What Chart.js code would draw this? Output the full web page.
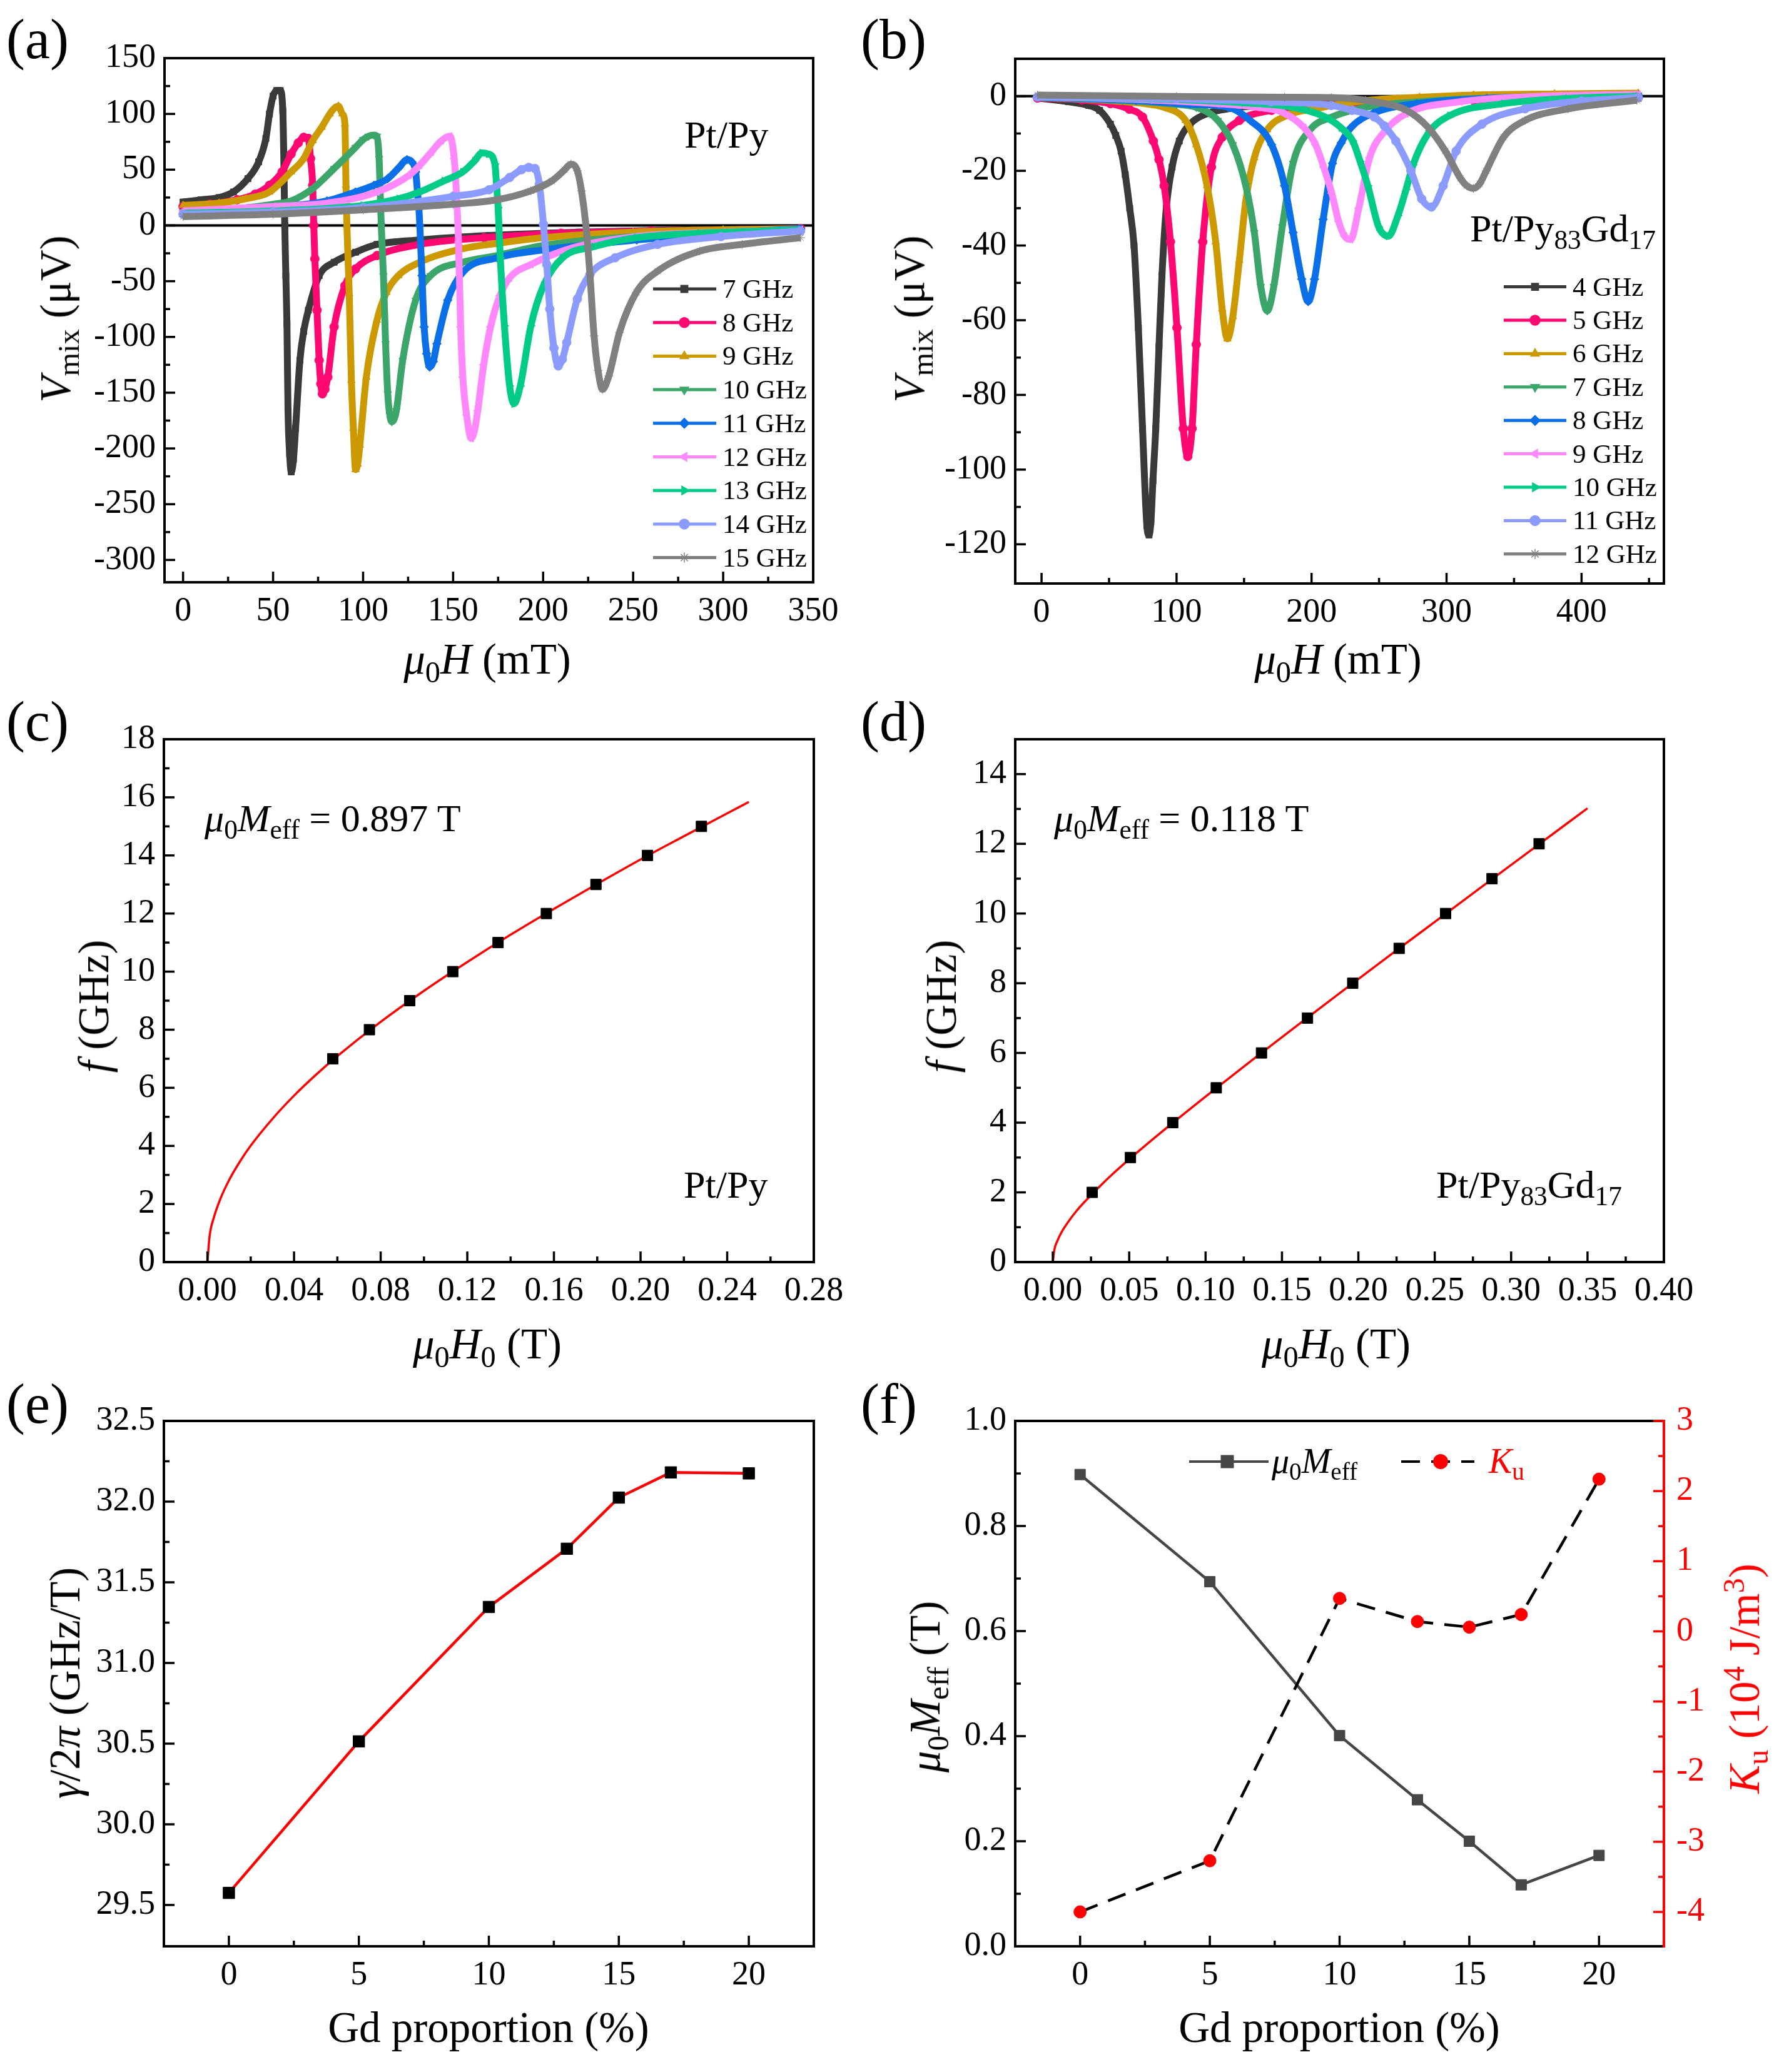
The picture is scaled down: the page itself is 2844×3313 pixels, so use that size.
<!DOCTYPE html>
<html><head><meta charset="utf-8">
<script src="https://cdn.jsdelivr.net/npm/chart.js@4.4.1/dist/chart.umd.min.js"></script>
<style>
html,body{margin:0;padding:0;background:#fff;}
#page{position:relative;width:2844px;height:3313px;overflow:hidden;background:#fff;font-family:'Liberation Serif','Times New Roman',serif;color:#000;}
canvas.p{position:absolute;}
.t{position:absolute;white-space:nowrap;line-height:1.1;}
.i{font-style:italic;}
.sb{font-size:0.7em;vertical-align:-0.28em;line-height:0;}
.sp{font-size:0.7em;vertical-align:0.5em;line-height:0;}
</style></head><body><div id="page"></div>
<script>
// ---------- Panel (a): Pt/Py, field (mT) and V_mix (uV) ----------
const freqLabelsA = ['7 GHz','8 GHz','9 GHz','10 GHz','11 GHz','12 GHz','13 GHz','14 GHz','15 GHz'];
const a7H = [0,10,20,28,36,42,46,48,50,52,54,55.4,55.9,56.5,57.1,57.7,58.3,59.2,60.1,61.3,62.5,64.9,67,69.6,75.6,83.9,95.8,107.7,131.5,170,220,280,343];
const a7V = [21,23,25,30,42,57,78,100,116,121,121,103,67,0,-45,-88,-166,-205,-221,-210,-182,-121,-95,-76,-45,-33,-24,-17,-13,-9,-6,-4,-3];
const a8H = [0,15,30,40,48,55,60,64,67,69.6,70.8,72,72.6,73.2,74.4,75.6,76.5,77.4,78.8,80.4,83.9,89.9,95.8,107.7,131.5,167.3,210,260,343];
const a8V = [17,19,23,28,36,48,64,74,79,78,60,36,0,-30,-76,-121,-142,-151,-147,-136,-91,-54,-39,-27,-17,-11,-7,-5,-3];
const a9H = [0,20,35,48,60,67,72,77,81.5,84,86.3,88.5,89.9,90.5,91,92.3,93.5,94.6,95.8,97,98.2,101.8,107.7,113,119.6,131.5,155,175,200,250,300,343];
const a9V = [18,20,24,30,48,60,76,88,100,105,107,100,91,36,0,-61,-139,-182,-219,-214,-197,-136,-85,-60,-45,-33,-21,-16,-11,-6,-4,-3];
const a10H = [0,30,50,60,72,83.9,95.8,100,103,106,107.7,108.9,109.5,110.1,111.3,112.5,113.7,114.8,116,117.2,118.5,122,129.2,137.5,155.4,174.4,200,250,300,343];
const a10V = [12,15,19,22,33,51,70,77,80,81,80,60,30,0,-45,-106,-151,-170,-176,-174,-166,-121,-67,-45,-33,-27,-18,-10,-6,-4];
const a11H = [0,50,80,95.8,106,113.7,120,124.4,127,129.2,130.2,131,131.5,132.7,133.9,135.3,137,139,141,147,155.4,174.4,200,252,299,343];
const a11V = [10,16,22,30,36,42,52,59,57,48,30,15,0,-45,-91,-115,-127,-122,-106,-67,-42,-29,-22,-13,-7,-3];
const a12H = [0,50,80,107.7,125.6,131.5,138,143.5,148.2,150.6,151.8,153,154.2,155.4,157.5,160.1,162,163.7,167,170.8,176,181.4,193.2,216.6,251.8,300,343];
const a12V = [13,17,20,30,45,54,66,76,80,60,30,-15,-91,-136,-170,-191,-183,-166,-125,-91,-63,-47,-35,-20,-10,-6,-4];
const a13H = [0,50,100,120,131.5,145,155.4,162,166,169.7,173.2,174.2,175,176.2,178.5,181.4,183.8,187.3,193.2,200.2,210.8,228.3,251.8,287,343];
const a13V = [11,13,18,24,30,40,48,58,65,64,55,35,16,-29,-90,-144,-160,-144,-90,-54,-29,-19,-11,-7,-4];
const a14H = [0,50,100,150,170,181.4,188,192,195.5,197.9,200.2,202,203.7,206,208.4,210.7,213.1,219,226,240,263.6,298.8,343];
const a14V = [10,12,16,26,32,43,50,52,51,37,1,-35,-75,-110,-126,-120,-105,-66,-44,-29,-17,-10,-5];
const a15H = [0,50,100,150,174.4,193.2,204.9,212,215.4,219,221.3,223.7,226,228.3,230.5,233,236.5,242.4,251.8,263.6,287,310.5,343];
const a15V = [8,10,14,19,23,31,40,50,55,49,31,1,-44,-99,-130,-147,-135,-96,-60,-41,-23,-17,-11];
const aXTicks = [0,50,100,150,200,250,300,350];
const aYTicks = [-300,-250,-200,-150,-100,-50,0,50,100,150];

// ---------- Panel (b): Pt/Py83Gd17 ----------
const freqLabelsB = ['4 GHz','5 GHz','6 GHz','7 GHz','8 GHz','9 GHz','10 GHz','11 GHz','12 GHz'];
const b4H = [-3,20,35,43,51,55,58.9,62,65.3,68.5,71.7,74.8,78,79.6,81,82.5,84.6,87,89.2,92.4,96.7,102,109.9,122.6,140,170,200,250,300,350,400,442];
const b4V = [-0.5,-1.5,-2.5,-3.8,-7.5,-10.5,-14.7,-21,-30,-40,-62,-89,-115,-117.5,-114,-103,-89,-67,-48,-30,-19,-12,-7.5,-4.7,-3.3,-2.4,-1.9,-1.4,-1.1,-0.9,-0.7,-0.6];
const b5H = [-3,30,51,65,74.8,82.8,87,90.8,95.5,100.3,105,108.3,111.5,114.6,119.4,125.8,133.8,146.5,170.4,210,260,320,380,442];
const b5V = [-0.5,-1,-2,-3.5,-5.6,-12,-17,-24,-39,-62,-89,-96.5,-89,-66.5,-39,-19,-11,-6.5,-3.8,-2.4,-1.6,-1.1,-0.7,-0.4];
const b6H = [-3,50,80,90.8,106.7,114.6,122.6,129,133.8,137.7,141.7,146.5,151.3,157.6,167.2,183,202,240,280,320,380,442];
const b6V = [-0.3,-1.2,-2.2,-3,-6.5,-13,-24,-39,-57,-65,-59,-44,-28,-16.5,-9,-5,-3.4,-1.2,-0.3,0.3,0.6,0.8];
const b7H = [-3,60,100,114.6,130.6,141.7,151.3,157.6,162.4,167.2,172,178.3,186.3,199,215,240,280,330,390,442];
const b7V = [-0.3,-1.2,-2.2,-3,-6.5,-13,-24,-36.5,-51,-57.5,-51,-35,-18,-9,-5.6,-3,-1.5,-0.5,0,0.3];
const b8H = [-3,70,110,138.5,154.5,170.4,180,186.3,192.7,197.5,202.2,208.6,215.5,222,229,246,278,330,390,442];
const b8V = [-0.3,-1.2,-2.2,-3,-6.5,-13,-24,-36.5,-49,-55,-49,-33,-18,-12.5,-8.5,-4.5,-2,-0.6,0,0.3];
const b9H = [-3,80,130,160,178.3,194.3,203,209,215,220,224.5,229,235,243,254.5,270,310,370,442];
const b9V = [-0.2,-1,-2,-3,-4.3,-8.4,-13,-19,-26,-33.5,-37.5,-38.4,-30,-16.5,-9.3,-4.7,-1.5,0,0.5];
const b10H = [-3,90,150,186.3,210.2,222,230.5,236,241.7,249.7,256.9,264,270,275.2,286.4,302.3,342.2,390,442];
const b10V = [-0.2,-0.8,-1.8,-3,-5.6,-8.5,-12,-17.5,-24,-35,-37.5,-32,-25,-18.4,-10,-5.2,-2,-0.6,0];
const b11H = [-3,100,170,214.6,230,246.5,254,262.4,273.6,281.6,288.8,297.5,307.1,326.2,358.1,400,442];
const b11V = [-0.2,-0.7,-1.5,-2.5,-3.8,-5.6,-8,-12,-20,-27.5,-29.7,-24,-14.7,-7.5,-3.4,-1.3,-0.4];
const b12H = [-3,100,180,214.6,246.5,270.4,286.4,299.1,310.3,315,319.9,324.5,329.4,342.2,358.1,390,441];
const b12V = [0.3,-0.1,-0.3,-0.4,-1.5,-3.8,-8.4,-14.7,-22,-24,-24.7,-23.5,-20,-11,-6.5,-3.4,-1.1];
const bXTicks = [0,100,200,300,400];
const bYTicks = [-120,-100,-80,-60,-40,-20,0];

// ---------- Panel (c): Kittel, Pt/Py ----------
const cH = [0.0579,0.0748,0.0934,0.1133,0.1342,0.1565,0.1794,0.2032,0.2281];
const cF = [7,8,9,10,11,12,13,14,15];
const cFitH = [0,0.001,0.003,0.006,0.01,0.015,0.02,0.03,0.04,0.05,0.06,0.08,0.10,0.12,0.14,0.16,0.18,0.20,0.22,0.24,0.25];
const cFitF = [0,0.89,1.54,2.18,2.82,3.46,4.01,4.93,5.73,6.44,7.09,8.27,9.34,10.33,11.27,12.16,13.02,13.86,14.66,15.45,15.84];
const cXTicks = [0,0.04,0.08,0.12,0.16,0.20,0.24,0.28];
const cYTicks = [0,2,4,6,8,10,12,14,16,18];

// ---------- Panel (d): Kittel, Pt/Py83Gd17 ----------
const dH = [0.0258,0.0508,0.0785,0.1070,0.1366,0.1667,0.1963,0.2267,0.2571,0.2875,0.3183];
const dF = [2,3,4,5,6,7,8,9,10,11,12];
const dFitH = [0,0.001,0.003,0.006,0.01,0.015,0.02,0.03,0.04,0.05,0.07,0.10,0.13,0.16,0.19,0.22,0.25,0.28,0.31,0.35];
const dFitF = [0,0.35,0.61,0.88,1.15,1.44,1.69,2.14,2.56,2.95,3.69,4.75,5.78,6.79,7.79,8.78,9.76,10.74,11.72,13.02];
const dXTicks = [0,0.05,0.10,0.15,0.20,0.25,0.30,0.35,0.40];
const dYTicks = [0,2,4,6,8,10,12,14];

// ---------- Panels (e), (f): vs Gd proportion ----------
const gdProportion = [0,5,10,13,15,17,20];
const gammaOver2Pi = [29.575,30.514,31.347,31.708,32.025,32.181,32.175];
const mu0Meff = [0.898,0.694,0.401,0.279,0.200,0.117,0.173];
const kuValues = [-4.0,-3.27,0.47,0.14,0.06,0.24,2.17];
const eXTicks = [0,5,10,15,20];
const eYTicks = [29.5,30.0,30.5,31.0,31.5,32.0,32.5];
const fYTicks = [0,0.2,0.4,0.6,0.8,1.0];
const fY2Ticks = [-4,-3,-2,-1,0,1,2,3];

// ---------- styles ----------
const seriesColors = ['#3a3a3a','#ff0872','#cc9900','#3ca66a','#0b6fe8','#ff88ff','#00cc88','#8c9bff','#808080'];
const markStyles = ['rect','circle','triangle','triangle','rectRot','triangle','triangle','circle','star'];
const markRot = [0,0,0,180,0,-90,90,0,0];
const FONT = "'Liberation Serif','Times New Roman',serif";

const page = document.getElementById('page');
function addCanvas(x, y, w, h) {
  const c = document.createElement('canvas'); c.className = 'p';
  c.width = w; c.height = h;
  c.style.left = x + 'px'; c.style.top = y + 'px'; c.style.width = w + 'px'; c.style.height = h + 'px';
  page.appendChild(c); return c;
}
function addText(html, x, y, size, o = {}) {
  const d = document.createElement('div'); d.className = 't'; d.innerHTML = html;
  d.style.left = x + 'px'; d.style.top = y + 'px'; d.style.fontSize = size + 'px';
  if (o.color) d.style.color = o.color;
  let tf = o.left ? 'translate(0,-50%)' : 'translate(-50%,-50%)';
  if (o.rot) tf += ' rotate(-90deg)';
  d.style.transform = tf;
  page.appendChild(d);
}

function minorFor(vals, min, max) {
  const st = vals[1] - vals[0]; const out = [];
  for (let k = -1; k <= vals.length; k++) {
    const v = vals[0] + (k + 0.5) * st;
    if (v > min + st * 0.1 && v < max - st * 0.1) out.push(v);
  }
  return out;
}

const framePlugin = {
  id: 'frame',
  beforeDatasetsDraw(chart, args, o) {
    if (!o || !o.zero) return;
    const { ctx, chartArea: a } = chart; const y = chart.scales.y;
    const py = y.getPixelForValue(0);
    ctx.save(); ctx.strokeStyle = '#000'; ctx.lineWidth = 4;
    ctx.beginPath(); ctx.moveTo(a.left, py); ctx.lineTo(a.right, py); ctx.stroke(); ctx.restore();
  },
  afterDatasetsDraw(chart, args, o) {
    if (!o || !o.on) return;
    const { ctx, chartArea: a } = chart;
    ctx.save();
    ctx.lineWidth = 4; ctx.strokeStyle = '#000'; ctx.lineJoin = 'miter';
    ctx.beginPath(); ctx.moveTo(a.right, a.top); ctx.lineTo(a.left, a.top); ctx.lineTo(a.left, a.bottom); ctx.lineTo(a.right, a.bottom); ctx.stroke();
    ctx.strokeStyle = o.rightColor || '#000';
    ctx.beginPath(); ctx.moveTo(a.right, a.top - 2); ctx.lineTo(a.right, a.bottom + 2); ctx.stroke();
    ctx.lineWidth = 3.5;
    const maj = 17, mnr = 9;
    const draw = (scale, side, color) => {
      const vals = scale.ticks.map(t => t.value);
      const minors = minorFor(vals, scale.min, scale.max);
      ctx.strokeStyle = color;
      const put = (v, len) => {
        const p = scale.getPixelForValue(v);
        ctx.beginPath();
        if (side === 'bottom') { ctx.moveTo(p, a.bottom); ctx.lineTo(p, a.bottom - len); }
        else if (side === 'left') { ctx.moveTo(a.left, p); ctx.lineTo(a.left + len, p); }
        else { ctx.moveTo(a.right, p); ctx.lineTo(a.right - len, p); }
        ctx.stroke();
      };
      vals.forEach(v => put(v, maj)); minors.forEach(v => put(v, mnr));
    };
    draw(chart.scales.x, 'bottom', '#000');
    draw(chart.scales.y, 'left', '#000');
    if (chart.scales.y2) draw(chart.scales.y2, 'right', o.rightColor || '#000');
    ctx.restore();
  }
};
const keyPlugin = {
  id: 'key',
  afterDraw(chart, args, o) {
    if (!o || !o.on) return;
    const ctx = chart.ctx;
    chart.data.datasets.forEach((ds, i) => {
      const y = o.y0 + i * o.dy;
      ctx.save();
      ctx.strokeStyle = ds.borderColor; ctx.lineWidth = 5;
      ctx.beginPath(); ctx.moveTo(o.x1, y); ctx.lineTo(o.x2, y); ctx.stroke();
      ctx.fillStyle = ds.borderColor; ctx.strokeStyle = ds.borderColor; ctx.lineWidth = 1.5;
      Chart.helpers.drawPoint(ctx, { pointStyle: ds.pointStyle, rotation: ds.pointRotation || 0, radius: 8, borderWidth: 1.5 }, o.xm, y);
      ctx.restore();
    });
  }
};
const fKeyPlugin = {
  id: 'fkey',
  afterDraw(chart, args, o) {
    if (!o || !o.on) return;
    const ctx = chart.ctx; const y = o.y;
    ctx.save();
    ctx.strokeStyle = '#464646'; ctx.lineWidth = 4;
    ctx.beginPath(); ctx.moveTo(o.a1, y); ctx.lineTo(o.a2, y); ctx.stroke();
    ctx.fillStyle = '#464646';
    Chart.helpers.drawPoint(ctx, { pointStyle: 'rect', rotation: 0, radius: 12, borderWidth: 1 }, o.am, y);
    ctx.strokeStyle = '#000'; ctx.setLineDash([30, 18]);
    ctx.beginPath(); ctx.moveTo(o.b1, y); ctx.lineTo(o.b2, y); ctx.stroke();
    ctx.setLineDash([]);
    ctx.fillStyle = '#ff0000'; ctx.strokeStyle = '#ff0000';
    Chart.helpers.drawPoint(ctx, { pointStyle: 'circle', rotation: 0, radius: 10, borderWidth: 1 }, o.bm, y);
    ctx.restore();
  }
};
Chart.register(framePlugin, keyPlugin, fKeyPlugin);

function axis(min, max, ticks, digits, afterFit, extra = {}) {
  return Object.assign({
    type: 'linear', min, max,
    grid: { display: false, drawTicks: false }, border: { display: false },
    afterBuildTicks: s => { s.ticks = ticks.map(v => ({ value: v })); },
    afterFit,
    ticks: { autoSkip: false, maxRotation: 0, minRotation: 0, color: '#000', padding: 14,
      font: { family: FONT, size: 54 },
      callback: v => digits < 0 ? String(v) : Number(v).toFixed(digits) }
  }, extra);
}
function makeChart(canvas, W, H, box, datasets, scales, plugins) {
  const pad = { left: 0, top: box.T, right: W - box.R - (box.r2 || 0), bottom: H - box.B - 100 };
  return new Chart(canvas, {
    type: 'line',
    data: { datasets },
    options: {
      responsive: false, animation: false, devicePixelRatio: 1,
      layout: { padding: pad },
      plugins: Object.assign({ legend: { display: false }, tooltip: { enabled: false } }, plugins),
      scales
    }
  });
}
function curve(label, Hs, Vs, i) {
  return {
    label, data: Hs.map((h, k) => ({ x: h, y: Vs[k] })),
    borderColor: seriesColors[i], backgroundColor: seriesColors[i], borderWidth: 11,
    pointStyle: markStyles[i], pointRotation: markRot[i], pointRadius: 7, pointBorderWidth: 1,
    pointBackgroundColor: seriesColors[i], pointBorderColor: seriesColors[i],
    cubicInterpolationMode: 'monotone', fill: false, order: -i
  };
}
function xAx(min, max, t, d) { return axis(min, max, t, d, s => { s.height = 100; }, { position: 'bottom' }); }
function yAx(min, max, t, d, L) { return axis(min, max, t, d, s => { s.width = L; }, { position: 'left' }); }

// ---- (a)
const aH = [a7H,a8H,a9H,a10H,a11H,a12H,a13H,a14H,a15H];
const aV = [a7V,a8V,a9V,a10V,a11V,a12V,a13V,a14V,a15V];
makeChart(addCanvas(0, 0, 1370, 1110), 1370, 1110, { T: 93, B: 931, R: 1300 },
  freqLabelsA.map((l, i) => curve(l, aH[i], aV[i], i)),
  { x: xAx(-10.3, 350, aXTicks, -1), y: yAx(-320, 150, aYTicks, -1, 263) },
  { frame: { on: true, zero: true }, key: { on: true, x1: 1044, x2: 1145, xm: 1094, y0: 462, dy: 53.7 } });

// ---- (b)
const bH = [b4H,b5H,b6H,b7H,b8H,b9H,b10H,b11H,b12H];
const bV = [b4V,b5V,b6V,b7V,b8V,b9V,b10V,b11V,b12V];
makeChart(addCanvas(1370, 0, 1474, 1110), 1474, 1110, { T: 94, B: 933, R: 1290 },
  freqLabelsB.map((l, i) => curve(l, bH[i], bV[i], i)),
  { x: xAx(-19.5, 461, bXTicks, -1), y: yAx(-130.5, 10, bYTicks, -1, 253) },
  { frame: { on: true, zero: true }, key: { on: true, x1: 1034, x2: 1134, xm: 1084, y0: 458.6, dy: 53.4 } });

// ---- (c)
function pts(Hs, Fs) { return Hs.map((h, k) => ({ x: h, y: Fs[k] })); }
function fitSet(Hs, Fs) { return { data: pts(Hs, Fs), borderColor: '#ff0000', borderWidth: 3.5, pointRadius: 0, cubicInterpolationMode: 'monotone', fill: false, order: 2 }; }
function sqSet(Hs, Fs, r) { return { data: pts(Hs, Fs), showLine: false, pointStyle: 'rect', pointRadius: r, pointBackgroundColor: '#000', pointBorderColor: '#000', pointBorderWidth: 1, order: 1 }; }
makeChart(addCanvas(0, 1110, 1370, 1090), 1370, 1090, { T: 72, B: 908, R: 1301 },
  [fitSet(cFitH, cFitF), sqSet(cH, cF, 12)],
  { x: xAx(-0.0201, 0.28, cXTicks, 2), y: yAx(0, 18, cYTicks, -1, 262) },
  { frame: { on: true } });

// ---- (d)
makeChart(addCanvas(1370, 1110, 1474, 1090), 1474, 1090, { T: 72, B: 908, R: 1290 },
  [fitSet(dFitH, dFitF), sqSet(dH, dF, 12)],
  { x: xAx(-0.0246, 0.40, dXTicks, 2), y: yAx(0, 15, dYTicks, -1, 253) },
  { frame: { on: true } });

// ---- (e)
makeChart(addCanvas(0, 2200, 1370, 1113), 1370, 1113, { T: 72, B: 912, R: 1301 },
  [{ data: pts(gdProportion, gammaOver2Pi), borderColor: '#ff0000', borderWidth: 4.5, pointStyle: 'rect', pointRadius: 13,
     pointBackgroundColor: '#000', pointBorderColor: '#000', pointBorderWidth: 1, fill: false }],
  { x: xAx(-2.5, 22.5, eXTicks, -1), y: yAx(29.244, 32.5, eYTicks, 1, 262) },
  { frame: { on: true } });

// ---- (f)
const fScales = {
  x: xAx(-2.5, 22.5, eXTicks, -1),
  y: yAx(0, 1.0, fYTicks, 1, 253),
  y2: axis(-4.49, 3, fY2Ticks, -1, s => { s.width = 150; }, { position: 'right' })
};
fScales.y2.ticks.color = '#ff0000'; fScales.y2.ticks.padding = 20;
makeChart(addCanvas(1370, 2200, 1474, 1113), 1474, 1113, { T: 72, B: 912, R: 1290, r2: 150 },
  [{ data: pts(gdProportion, mu0Meff), yAxisID: 'y', borderColor: '#464646', borderWidth: 4.5, pointStyle: 'rect', pointRadius: 12,
     pointBackgroundColor: '#464646', pointBorderColor: '#464646', pointBorderWidth: 1, fill: false, order: 2 },
   { data: pts(gdProportion, kuValues), yAxisID: 'y2', borderColor: '#000', borderWidth: 4.5, borderDash: [30, 18], pointStyle: 'circle', pointRadius: 10,
     pointBackgroundColor: '#ff0000', pointBorderColor: '#ff0000', pointBorderWidth: 1, fill: false, order: 1 }],
  fScales,
  { frame: { on: true, rightColor: '#ff0000' }, fkey: { on: true, y: 137, a1: 531, a2: 658, am: 592, b1: 870, b2: 987, bm: 933 } });

// ---------- text ----------
const PL = 90;
addText('(a)', 10, 62, PL, { left: 1 }); addText('(b)', 1376, 62, PL, { left: 1 });
addText('(c)', 10, 1153, PL, { left: 1 }); addText('(d)', 1376, 1153, PL, { left: 1 });
addText('(e)', 10, 2244, PL, { left: 1 }); addText('(f)', 1376, 2244, PL, { left: 1 });

const AT = 69;
const muH = '<span class="i">μ</span><span class="sb">0</span><span class="i">H</span>';
const vmix = '<span class="i">V</span><span class="sb">mix</span> (μV)';
const meff = '<span class="i">μ</span><span class="sb">0</span><span class="i">M</span><span class="sb">eff</span>';
addText(vmix, 90, 510, AT, { rot: 1 });
addText(muH + ' (mT)', 779, 1055, AT);
addText(vmix, 1455, 510, AT, { rot: 1 });
addText(muH + ' (mT)', 2139, 1055, AT);
addText('<span class="i">f</span> (GHz)', 151, 1609, AT, { rot: 1 });
addText(muH + '<span class="sb">0</span> (T)', 779, 2150, AT);
addText('<span class="i">f</span> (GHz)', 1506, 1609, AT, { rot: 1 });
addText(muH + '<span class="sb">0</span> (T)', 2136, 2150, AT);
addText('<span class="i">γ</span>/2<span class="i">π</span> (GHz/T)', 105, 2691, AT, { rot: 1 });
addText('Gd proportion (%)', 781, 3243, AT);
addText(meff + ' (T)', 1480, 2697, AT, { rot: 1 });
addText('<span class="i">K</span><span class="sb">u</span> (10<span class="sp">4</span> J/m<span class="sp">3</span>)', 2790, 2684, AT, { rot: 1, color: '#ff0000' });
addText('Gd proportion (%)', 2141, 3243, AT);

const AN = 62;
const ptpygd = 'Pt/Py<span class="sb">83</span>Gd<span class="sb">17</span>';
addText('Pt/Py', 1094, 215, AN, { left: 1 });
addText(ptpygd, 2350, 365, AN, { left: 1 });
addText(meff + ' = 0.897 T', 327, 1308, AN, { left: 1 });
addText('Pt/Py', 1093, 1894, AN, { left: 1 });
addText(meff + ' = 0.118 T', 1685, 1308, AN, { left: 1 });
addText(ptpygd, 2296, 1894, AN, { left: 1 });

freqLabelsA.forEach((l, i) => addText(l, 1155, 462 + i * 53.7, 43, { left: 1 }));
freqLabelsB.forEach((l, i) => addText(l, 2514, 458.6 + i * 53.4, 43, { left: 1 }));
addText(meff, 2033, 2337, 56, { left: 1 });
addText('<span class="i">K</span><span class="sb">u</span>', 2380, 2337, 56, { left: 1, color: '#ff0000' });
</script></body></html>
